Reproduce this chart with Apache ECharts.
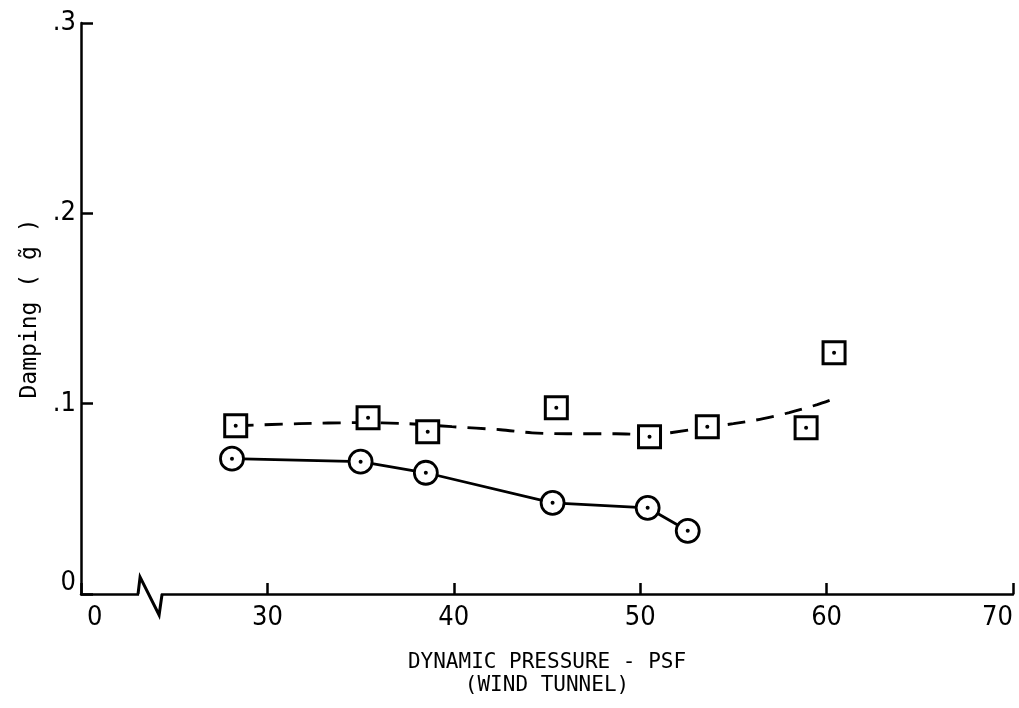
<!DOCTYPE html>
<html>
<head>
<meta charset="utf-8">
<script src="https://cdn.jsdelivr.net/npm/echarts@6/dist/echarts.min.js"></script>
<style>
html,body{margin:0;padding:0;background:#fff;}
#chart{width:1019px;height:708px;}
</style>
</head>
<body>
<div id="chart"></div>
<script>
// x tick values and their printed labels (axis has a break: "0" then 30..70)
var xTickValues = [20, 30, 40, 50, 60, 70];
var xTickLabels = ['0', '30', '40', '50', '60', '70'];
var yTickValues = [0, 0.1, 0.2, 0.3];
var yTickLabels = ['0', '.1', '.2', '.3'];

// Squares (scattered test points)
var squareX = [28.3, 35.4, 38.6, 45.5, 50.5, 53.6, 58.9, 60.4];
var squareY = [0.0884, 0.0926, 0.0853, 0.0979, 0.0826, 0.0879, 0.0874, 0.1268];

// Dashed fairing curve through the squares
var fitX = [28.3, 31.7, 34.8, 37.5, 39.9, 42.5, 44.2, 46.1, 48.7, 50.5, 52.7, 55.0, 56.6, 58.0, 59.5, 60.7];
var fitY = [0.0884, 0.0895, 0.0900, 0.0895, 0.0879, 0.0863, 0.0847, 0.0842, 0.0842, 0.0837, 0.0863, 0.0895, 0.0921, 0.0953, 0.0995, 0.1037];

// Circles (connected by solid line)
var circleX = [28.1, 35.0, 38.5, 45.3, 50.4, 52.55];
var circleY = [0.0711, 0.0695, 0.0637, 0.0479, 0.0453, 0.0332];

// axis break location (value space)
var breakX = [23.06, 23.17, 24.19, 24.35];
var breakY = [0, 0.0089, -0.011, 0];

function zip(a, b) { return a.map(function (v, i) { return [v, b[i]]; }); }

var FONT = '"DejaVu Sans Mono", monospace';
var TFONT = '"DejaVu Sans Condensed", "DejaVu Sans Mono", monospace';
var chart = echarts.init(document.getElementById('chart'));
chart.setOption({
  animation: false,
  backgroundColor: '#fff',
  grid: { left: 81, right: 6, top: 23, bottom: 114, containLabel: false },
  xAxis: {
    type: 'value', min: 20, max: 70, interval: 10,
    splitLine: { show: false },
    axisLine: { show: true, lineStyle: { color: '#000', width: 2.5 } },
    axisTick: { show: true, inside: true, length: 11, lineStyle: { color: '#000', width: 2.5 } },
    axisLabel: {
      color: '#000', fontFamily: TFONT, fontSize: 27, margin: 10,
      alignMinLabel: 'left', alignMaxLabel: 'right',
      formatter: function (v) {
        var i = xTickValues.indexOf(v);
        if (i < 0) return '';
        return i === 0 ? '{z|' + xTickLabels[i] + '}' : xTickLabels[i];
      },
      rich: { z: { fontFamily: TFONT, fontSize: 27, color: '#000', padding: [0, 0, 0, 6] } }
    },
    name: 'DYNAMIC PRESSURE - PSF\n(WIND TUNNEL)',
    nameLocation: 'middle', nameGap: 57,
    nameTextStyle: { color: '#000', fontFamily: FONT, fontSize: 21, lineHeight: 23 }
  },
  yAxis: {
    type: 'value', min: 0, max: 0.3, interval: 0.1,
    splitLine: { show: false },
    axisLine: { show: true, lineStyle: { color: '#000', width: 2.5 } },
    axisTick: { show: true, inside: true, length: 12, lineStyle: { color: '#000', width: 2.5 } },
    axisLabel: {
      color: '#000', fontFamily: TFONT, fontSize: 27, margin: 5,
      formatter: function (v) {
        for (var i = 0; i < yTickValues.length; i++) {
          if (Math.abs(yTickValues[i] - v) < 1e-9) return i === 0 ? '{z|' + yTickLabels[i] + '}' : yTickLabels[i];
        }
        return '';
      },
      rich: { z: { fontFamily: TFONT, fontSize: 27, color: '#000', padding: [0, 0, 22, 0] } }
    },
    name: 'Damping ( g\u0303 )',
    nameLocation: 'middle', nameRotate: 90, nameGap: 24,
    nameTextStyle: { color: '#000', fontFamily: FONT, fontSize: 23 }
  },
  series: [
    {
      type: 'line', data: zip(fitX, fitY), smooth: 0.3, symbol: 'none', silent: true,
      lineStyle: { color: '#000', width: 2.8, type: [18, 11] }, z: 2
    },
    {
      type: 'line', data: zip(circleX, circleY), symbol: 'circle', symbolSize: 23,
      lineStyle: { color: '#000', width: 2.8 },
      itemStyle: { color: '#fff', borderColor: '#000', borderWidth: 2.8, opacity: 1 }, z: 3
    },
    {
      type: 'scatter', data: zip(squareX, squareY), symbol: 'rect', symbolSize: 22,
      itemStyle: { color: '#fff', borderColor: '#000', borderWidth: 3, opacity: 1 }, z: 4
    },
    {
      type: 'scatter', data: zip(squareX, squareY).concat(zip(circleX, circleY)),
      symbol: 'circle', symbolSize: 4, itemStyle: { color: '#000', opacity: 1 }, z: 5
    }
  ]
});

// axis break zigzag
var pts = breakX.map(function (x, i) { return chart.convertToPixel({ gridIndex: 0 }, [x, breakY[i]]); });
chart.setOption({
  graphic: [
    { type: 'rect', shape: { x: pts[0][0] + 1, y: pts[0][1] - 3, width: pts[3][0] - pts[0][0] - 2, height: 6 },
      style: { fill: '#fff' }, z: 100 },
    { type: 'polyline', shape: { points: pts }, style: { stroke: '#000', lineWidth: 3, fill: null }, z: 101 }
  ]
});
</script>
</body>
</html>
